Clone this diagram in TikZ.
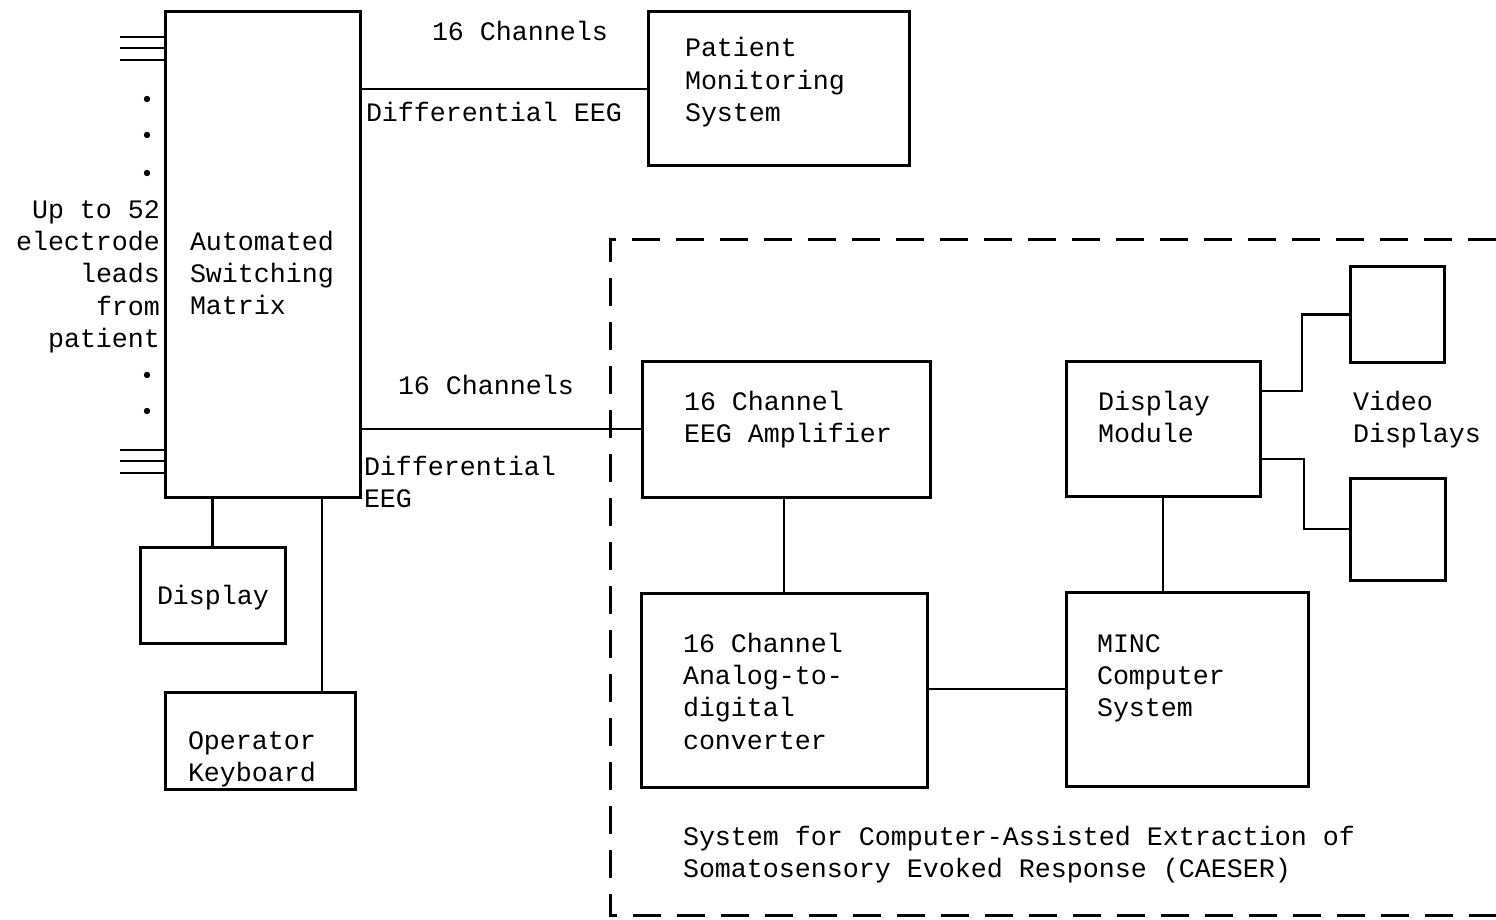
\documentclass[tikz,border=0pt]{standalone}
\usepackage{fontspec}
\setmainfont{Liberation Mono}
\begin{document}
\begin{tikzpicture}[x=0.5pt,y=-0.5pt,
  box/.style={draw,line width=1.5pt,inner sep=0pt,outer sep=0pt},
  wire/.style={line width=1.1pt},
  lead/.style={line width=1.1pt},
  % base anchor of a multi-line text sits on its last line
  txt/.style={inner sep=0pt,outer sep=0pt,align=left,anchor=base west,
    font=\fontsize{13.33pt}{16.2pt}\selectfont},
  region/.style={line width=1.5pt,dash pattern=on 14pt off 8pt}]
\useasboundingbox (0,0) rectangle (1496,920);

% blocks
\node[box,minimum width=97.5pt,minimum height=242.5pt] (mat) at (262.5,254.5) {};
\node[box,minimum width=130.5pt,minimum height=77pt] (pms) at (778.5,89) {};
\node[box,minimum width=72.5pt,minimum height=48pt] (disp) at (212.5,595) {};
\node[box,minimum width=95pt,minimum height=48.5pt] (kbd) at (260,740.5) {};
\node[box,minimum width=144pt,minimum height=68pt] (amp) at (786,429) {};
\node[box,minimum width=97pt,minimum height=67.5pt] (dmod) at (1163,428.5) {};
\node[box,minimum width=47pt,minimum height=47.5pt] (vid1) at (1397,314.5) {};
\node[box,minimum width=47.5pt,minimum height=51pt] (vid2) at (1397.5,529) {};
\node[box,minimum width=143pt,minimum height=97pt] (adc) at (784,690) {};
\node[box,minimum width=121pt,minimum height=97pt] (minc) at (1187,689) {};

% CAESER region outline
\draw[region] (1496,240) -- (610,240) -- (610,915) -- (1496,915);

% electrode leads
\foreach \y in {37,48,60,450,461,473}
  \draw[lead] (120,\y) -- (mat.west |- 0,\y);
\foreach \y in {99,135,173,375,411}
  \fill (147,\y) circle (1.6pt);

% connections
\draw[wire] (pms.west -| mat.east) -- (pms.west);
\draw[wire] (amp.west -| mat.east) -- (amp.west);
\draw[wire] (disp.north |- mat.south) -- (disp.north);
\draw[wire] ([xshift=-16.5pt]kbd.north east |- mat.south) -- ([xshift=-16.5pt]kbd.north east);
\draw[wire] (adc.north |- amp.south) -- (adc.north);
\draw[wire] (minc.west -| adc.east) -- (minc.west);
\draw[wire] (dmod.south) -- (dmod.south |- minc.north);
\draw[wire] ([yshift=18.75pt]dmod.east) -| ([xshift=-24pt]vid1.west) -- (vid1.west);
\draw[wire] ([yshift=-15.25pt]dmod.east) -| ([xshift=-23pt]vid2.west) -- (vid2.west);

% labels
\node[txt] (l16a) at (432,41) {16 Channels};
\node[txt] (ldea) at (366,122) {Differential EEG};
\node[txt] (l16b) at (398,394) {16 Channels};
\node[txt] (ldeb) at (364,507.4) {Differential\\EEG};
\node[txt,align=right,anchor=base east] (lleads) at (160,347.6) {Up to 52\\electrode\\leads\\from\\patient};
\node[txt] (tmat) at (190,314.8) {Automated\\Switching\\Matrix};
\node[txt] (tpms) at (685,121.8) {Patient\\Monitoring\\System};
\node[txt] (tdisp) at (157,604) {Display};
\node[txt] (tkbd) at (188,781.4) {Operator\\Keyboard};
\node[txt] (tamp) at (684,442.4) {16 Channel\\EEG Amplifier};
\node[txt] (tdmod) at (1098,442.4) {Display\\Module};
\node[txt] (tvid) at (1353,442.4) {Video\\Displays};
\node[txt] (tadc) at (683,749.2) {16 Channel\\Analog-to-\\digital\\converter};
\node[txt] (tminc) at (1097,716.8) {MINC\\Computer\\System};
\node[txt] (tcaes) at (683,877.4) {System for Computer-Assisted Extraction of\\Somatosensory Evoked Response (CAESER)};
\end{tikzpicture}
\end{document}
